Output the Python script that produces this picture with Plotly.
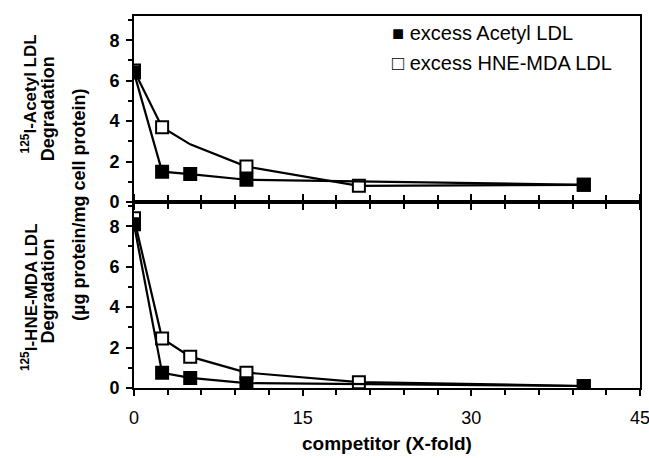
import plotly.graph_objects as go
from plotly.subplots import make_subplots

# Top panel: 125I-Acetyl LDL degradation
top_acetyl_x = [0, 2.5, 5, 10, 40]
top_acetyl_y = [6.4, 1.5, 1.38, 1.1, 0.85]
top_hne_x = [0, 2.5, 5, 10, 20, 40]
top_hne_y = [6.5, 3.7, 2.85, 1.75, 0.8, 0.85]
top_hne_marker = [12, 12, 0, 12, 12, 12]

# Bottom panel: 125I-HNE-MDA LDL degradation
bot_acetyl_x = [0, 2.5, 5, 10, 40]
bot_acetyl_y = [8.1, 0.75, 0.5, 0.24, 0.1]
bot_hne_x = [0, 2.5, 5, 10, 20, 40]
bot_hne_y = [8.4, 2.45, 1.55, 0.76, 0.29, 0.1]

x_ticks = [0, 15, 30, 45]
y_ticks = [0, 2, 4, 6, 8]

FONT = "Liberation Sans, Arial, sans-serif"

fig = make_subplots(rows=2, cols=1, shared_xaxes=True, vertical_spacing=0)

filled = dict(symbol="square", size=12, color="black", opacity=1, line=dict(color="black", width=2))
opened = dict(symbol="square", size=12, color="white", opacity=1, line=dict(color="black", width=2))

fig.add_trace(go.Scatter(x=top_hne_x, y=top_hne_y, mode="lines+markers",
                         line=dict(color="black", width=2.2),
                         marker=dict(opened, size=top_hne_marker), showlegend=False), row=1, col=1)
fig.add_trace(go.Scatter(x=top_acetyl_x, y=top_acetyl_y, mode="lines+markers",
                         line=dict(color="black", width=2.2), marker=filled, showlegend=False), row=1, col=1)
fig.add_trace(go.Scatter(x=bot_hne_x, y=bot_hne_y, mode="lines+markers",
                         line=dict(color="black", width=2.2), marker=opened, showlegend=False), row=2, col=1)
fig.add_trace(go.Scatter(x=bot_acetyl_x, y=bot_acetyl_y, mode="lines+markers",
                         line=dict(color="black", width=2.2), marker=filled, showlegend=False), row=2, col=1)

axis_common = dict(showline=True, linecolor="black", linewidth=2, showgrid=False, zeroline=False,
                   tickcolor="black", tickwidth=2, ticklen=6, automargin=False,
                   ticklabeloverflow="allow",
                   tickfont=dict(family=FONT, size=18, color="black", weight="bold"))

fig.update_xaxes(range=[0, 45], tickvals=x_ticks, ticks="outside",
                 minor=dict(dtick=3, ticks="outside", ticklen=5, tickcolor="black", tickwidth=1.5),
                 **axis_common)
fig.update_xaxes(mirror=True, showticklabels=False, row=1, col=1)
fig.update_xaxes(mirror="ticks", ticklabelstandoff=6,
                 tickfont=dict(family=FONT, size=18, color="black", weight="normal"), row=2, col=1)

fig.update_yaxes(tickvals=y_ticks, ticks="outside", mirror=True, range=[0, 9.2],
                 minor=dict(dtick=1, ticks="outside", ticklen=4, tickcolor="black", tickwidth=1.5),
                 ticklabelstandoff=3, **axis_common)

ann = []
def yl(text, x, y, size=18):
    ann.append(dict(text=text, x=x, y=y, xref="paper", yref="paper", showarrow=False,
                    textangle=-90, xanchor="center", yanchor="middle",
                    font=dict(family=FONT, size=size, color="black", weight="bold")))

yl("<sup>125</sup>I-Acetyl LDL", -0.207, 0.79, 17)
yl("Degradation", -0.17, 0.752)
yl("<sup>125</sup>I-HNE-MDA LDL", -0.207, 0.245, 17)
yl("Degradation", -0.17, 0.262)
yl("(µg protein/mg cell protein)", -0.11, 0.493)

ann.append(dict(text="competitor (X-fold)", x=0.5, y=-0.148, xref="paper", yref="paper",
                showarrow=False, xanchor="center", yanchor="middle",
                font=dict(family=FONT, size=19, color="black", weight="bold")))
ann.append(dict(text="■ excess Acetyl LDL", x=0.505, y=0.953, xref="paper", yref="paper",
                showarrow=False, xanchor="left", yanchor="middle",
                font=dict(family=FONT, size=20, color="black")))
ann.append(dict(text="□ excess HNE-MDA LDL", x=0.505, y=0.875, xref="paper", yref="paper",
                showarrow=False, xanchor="left", yanchor="middle",
                font=dict(family=FONT, size=20, color="black")))

fig.update_layout(width=649, height=458, margin=dict(l=134, r=9, t=16, b=70),
                  plot_bgcolor="white", paper_bgcolor="white", annotations=ann)

fig.write_html("out.html", config={"displayModeBar": False},
               post_script="document.body.style.margin='0';document.body.style.overflow='hidden';")
